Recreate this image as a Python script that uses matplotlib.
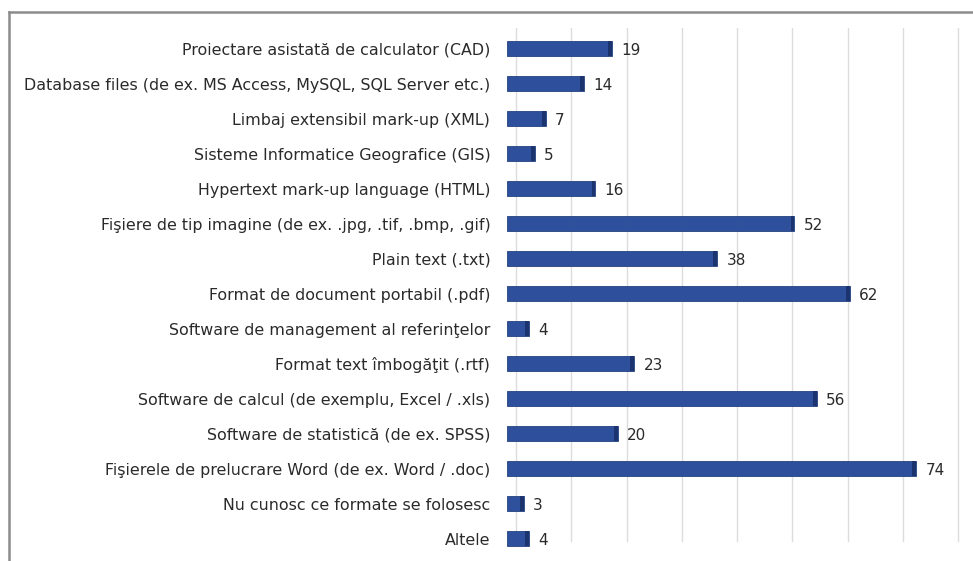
import matplotlib
matplotlib.use("Agg")
import matplotlib.pyplot as plt
import matplotlib.transforms as mtransforms
from matplotlib.lines import Line2D

#------------------------------------------------ DATA ----------------------------------------------------#

categories = [
    "Proiectare asistată de calculator (CAD)",
    "Database files (de ex. MS Access, MySQL, SQL Server etc.)",
    "Limbaj extensibil mark-up (XML)",
    "Sisteme Informatice Geografice (GIS)",
    "Hypertext mark-up language (HTML)",
    "Fişiere de tip imagine (de ex. .jpg, .tif, .bmp, .gif)",
    "Plain text (.txt)",
    "Format de document portabil (.pdf)",
    "Software de management al referinţelor",
    "Format text îmbogăţit (.rtf)",
    "Software de calcul (de exemplu, Excel / .xls)",
    "Software de statistică (de ex. SPSS)",
    "Fişierele de prelucrare Word (de ex. Word / .doc)",
    "Nu cunosc ce formate se folosesc",
    "Altele",
]
values = [19, 14, 7, 5, 16, 52, 38, 62, 4, 23, 56, 20, 74, 3, 4]
grid_ticks = [0, 10, 20, 30, 40, 50, 60, 70, 80]

#------------------------------------------------ PLOT ----------------------------------------------------#

bar_color = "#2D4F9C"
cap_color = "#1B3470"
text_color = "#2A2A2A"

fig = plt.figure(figsize=(9.73, 5.61), dpi=100)
ax = fig.add_axes([0.521, 0.0232, 0.479, 0.927])

ypos = list(range(len(categories)))

# back wall gridlines, shifted a bit to the right for the 3D look
wall = ax.transData + mtransforms.ScaledTranslation(9 / 100, 0, fig.dpi_scale_trans)
floor = ax.transData + mtransforms.ScaledTranslation(-3 / 100, -9 / 100, fig.dpi_scale_trans)
for t in grid_ticks:
    ax.plot([t, t], [-0.6, 14.05], color="#DCDCDC", lw=1.0, transform=wall, zorder=0)
    ax.plot([t + 1.6, t], [14.05, 14.05], color="#DCDCDC", lw=0.9, transform=floor, zorder=0)

ax.barh(ypos, values, height=0.43, color=bar_color, edgecolor="#24427F", lw=0.6, zorder=2)
# darker right end of each bar
ax.barh(ypos, [0.7] * len(values), left=[v - 0.7 for v in values], height=0.43,
        color=cap_color, lw=0, zorder=3)

for y, v in zip(ypos, values):
    ax.text(v + 1.7, y + 0.05, str(v), va="center", ha="left", fontsize=11, color=text_color)

ax.set_xlim(0, 84.3)
ax.set_ylim(14.26, -0.6)
ax.set_yticks(ypos)
ax.set_yticklabels(categories, fontsize=11.4, color=text_color)
ax.tick_params(axis="y", length=0, pad=12)
ax.set_xticks([])
for s in ax.spines.values():
    s.set_visible(False)

# chart frame (only top and left edges are inside the picture)
fig.add_artist(Line2D([9 / 973, 1], [1 - 12 / 561, 1 - 12 / 561], color="#8C8C8C", lw=1.8))
fig.add_artist(Line2D([9 / 973, 9 / 973], [0, 1 - 12 / 561], color="#8C8C8C", lw=1.8))

fig.savefig("out.png", dpi=100)
